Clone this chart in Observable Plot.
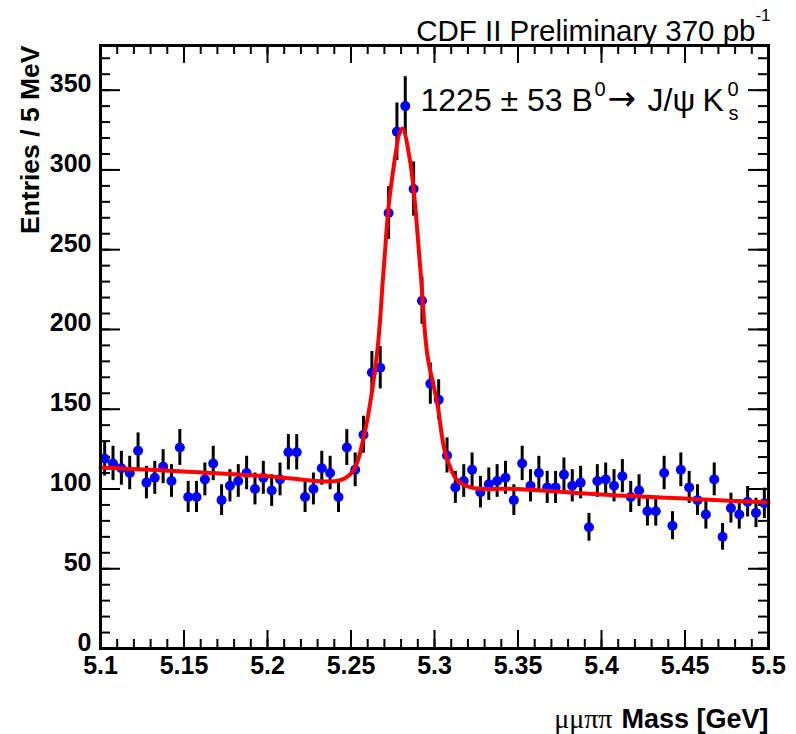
<!DOCTYPE html>
<html>
<head>
<meta charset="utf-8">
<script src="https://cdn.jsdelivr.net/npm/d3@7"></script>
<script src="https://cdn.jsdelivr.net/npm/@observablehq/plot@0.6"></script>
<style>
  html, body { margin: 0; padding: 0; background: #fff; }
</style>
</head>
<body>
<div id="chart"></div>
<script>
// Bin centres (5 MeV bins) and entries
const binCenters = [
  5.1025,5.1075,5.1125,5.1175,5.1225,5.1275,5.1325,5.1375,5.1425,5.1475,
  5.1525,5.1575,5.1625,5.1675,5.1725,5.1775,5.1825,5.1875,5.1925,5.1975,
  5.2025,5.2075,5.2125,5.2175,5.2225,5.2275,5.2325,5.2375,5.2425,5.2475,
  5.2525,5.2575,5.2625,5.2675,5.2725,5.2775,5.2825,5.2875,5.2925,5.2975,
  5.3025,5.3075,5.3125,5.3175,5.3225,5.3275,5.3325,5.3375,5.3425,5.3475,
  5.3525,5.3575,5.3625,5.3675,5.3725,5.3775,5.3825,5.3875,5.3925,5.3975,
  5.4025,5.4075,5.4125,5.4175,5.4225,5.4275,5.4325,5.4375,5.4425,5.4475,
  5.4525,5.4575,5.4625,5.4675,5.4725,5.4775,5.4825,5.4875,5.4925,5.4975
];
const entries = [
  119,116,113,110,124,104,107,114,105,126,
  95,95,106,116,93,102,105,110,100,107,
  99,106,123,123,95,100,113,110,95,126,
  112,134,173,176,273,324,340,288,218,166,
  156,121,101,105,112,98,103,105,107,93,
  116,102,110,101,101,109,102,104,76,105,
  106,102,108,95,99,86,86,110,77,112,
  101,93,84,106,70,88,84,92,85,91
];

// Fit curve
const fitX = [5.1, 5.15, 5.2, 5.2435, 5.2515, 5.2575, 5.2656, 5.2695, 5.2736, 5.2806, 5.2856, 5.2916, 5.2956, 5.3016, 5.3066, 5.3136, 5.3216, 5.35, 5.4, 5.45, 5.5];
const fitY = [113.5, 111, 108, 105.5, 111.7, 132, 185, 237, 287, 326, 304, 237, 185, 154, 122, 105.5, 101, 100, 96.5, 94, 91.5];

// Axis ticks
const xMajor = [5.1, 5.15, 5.2, 5.25, 5.3, 5.35, 5.4, 5.45, 5.5];
const xMinor = [5.1,5.11,5.12,5.13,5.14,5.15,5.16,5.17,5.18,5.19,5.2,5.21,5.22,5.23,5.24,5.25,5.26,5.27,5.28,5.29,5.3,5.31,5.32,5.33,5.34,5.35,5.36,5.37,5.38,5.39,5.4,5.41,5.42,5.43,5.44,5.45,5.46,5.47,5.48,5.49,5.5];
const xTickLabels = ["5.1","5.15","5.2","5.25","5.3","5.35","5.4","5.45","5.5"];
const yMajor = [0, 50, 100, 150, 200, 250, 300, 350];
const yMinor = [0,10,20,30,40,50,60,70,80,90,100,110,120,130,140,150,160,170,180,190,200,210,220,230,240,250,260,270,280,290,300,310,320,330,340,350,360,370];

const data = binCenters.map((x, i) => ({x, n: entries[i]}));
const fit = fitX.map((x, i) => ({x, y: fitY[i]}));

const W = 796, H = 734, ML = 100, MR = 28, MT = 45, MB = 86;
const PW = W - ML - MR, PH = H - MT - MB;
const X0 = 5.1, X1 = 5.5, Y0 = 0, Y1 = 378;
const pxToY = (Y1 - Y0) / PH, pxToX = (X1 - X0) / PW;

const sans = "Liberation Sans, Arial, Helvetica, sans-serif";
const xLabelMap = new Map(xMajor.map((v, i) => [v, xTickLabels[i]]));

// inward tick marks drawn as short rules (length given in pixels)
const tx = (vals, len, side) => Plot.ruleX(vals, {x: d => d,
  y1: side === "bottom" ? Y0 : Y1,
  y2: side === "bottom" ? Y0 + len * pxToY : Y1 - len * pxToY,
  stroke: "#000", strokeWidth: 2});
const ty = (vals, len, side) => Plot.ruleY(vals, {y: d => d,
  x1: side === "left" ? X0 : X1,
  x2: side === "left" ? X0 + len * pxToX : X1 - len * pxToX,
  stroke: "#000", strokeWidth: 2});

const chart = Plot.plot({
  width: W,
  height: H,
  marginLeft: ML,
  marginRight: MR,
  marginTop: MT,
  marginBottom: MB,
  style: {fontFamily: sans, background: "#fff", color: "#000", overflow: "visible"},
  x: {domain: [X0, X1]},
  y: {domain: [Y0, Y1]},
  marks: [
    // inward ticks on all four sides
    tx(xMinor, 9, "bottom"), tx(xMajor, 18, "bottom"),
    tx(xMinor, 9, "top"), tx(xMajor, 18, "top"),
    ty(yMinor, 10, "left"), ty(yMajor, 20, "left"),
    ty(yMinor, 10, "right"), ty(yMajor, 20, "right"),
    // tick labels
    Plot.axisX(xMajor, {anchor: "bottom", tickSize: 0, tickPadding: 8, label: null,
      tickFormat: d => xLabelMap.get(d), fontSize: 25, fontWeight: "bold", fill: "#000"}),
    Plot.axisY(yMajor, {anchor: "left", tickSize: 0, tickPadding: 9, label: null,
      tickFormat: d => String(d), fontSize: 25, fontWeight: "bold", fill: "#000", dy: -6}),
    // error bars
    Plot.ruleX(data, {x: "x", y1: d => d.n - Math.sqrt(d.n), y2: d => d.n + Math.sqrt(d.n), stroke: "#000", strokeWidth: 3}),
    // points
    Plot.dot(data, {x: "x", y: "n", r: 5, fill: "#0000ff", stroke: "none"}),
    // fit
    Plot.line(fit, {x: "x", y: "y", stroke: "#ff0000", strokeWidth: 4, curve: "catmull-rom"}),
    Plot.frame({stroke: "#000", strokeWidth: 3}),
    // title
    Plot.text(["CDF II Preliminary 370 pb"], {frameAnchor: "top-right", dx: -13, dy: -5, textAnchor: "end", lineAnchor: "bottom", fontSize: 29.5, fill: "#000", fontFamily: sans}),
    Plot.text(["-1"], {frameAnchor: "top-right", dx: 2, dy: -25, textAnchor: "end", lineAnchor: "bottom", fontSize: 17, fill: "#000", fontFamily: sans}),
    // axis titles
    Plot.text(["Entries / 5 MeV"], {frameAnchor: "top-left", rotate: -90, textAnchor: "end", lineAnchor: "middle", dx: -70, dy: 0, fontSize: 26.5, fontWeight: "bold", fill: "#000", fontFamily: sans}),
    Plot.text(["Mass [GeV]"], {frameAnchor: "bottom-right", textAnchor: "end", lineAnchor: "bottom", dy: 79, fontSize: 27, fontWeight: "bold", fill: "#000", fontFamily: sans}),
    Plot.text(["μμππ"], {frameAnchor: "bottom-right", textAnchor: "end", lineAnchor: "bottom", dx: -156, dy: 79, fontSize: 28, fill: "#000", fontFamily: "Liberation Serif, serif"}),
    // annotation
    Plot.text(["1225 ± 53 B"], {frameAnchor: "top-left", textAnchor: "start", lineAnchor: "bottom", dx: 320, dy: 65, fontSize: 32, fill: "#000", fontFamily: sans}),
    Plot.text(["0"], {frameAnchor: "top-left", textAnchor: "start", lineAnchor: "bottom", dx: 494, dy: 50, fontSize: 20, fill: "#000", fontFamily: sans}),
    Plot.text(["→"], {frameAnchor: "top-left", textAnchor: "start", lineAnchor: "bottom", dx: 507, dy: 64, fontSize: 34, fill: "#000", fontFamily: "DejaVu Sans, sans-serif"}),
    Plot.text(["J/ψ"], {frameAnchor: "top-left", textAnchor: "start", lineAnchor: "bottom", dx: 547, dy: 65, fontSize: 32, fill: "#000", fontFamily: sans}),
    Plot.text(["K"], {frameAnchor: "top-left", textAnchor: "start", lineAnchor: "bottom", dx: 602, dy: 65, fontSize: 32, fill: "#000", fontFamily: sans}),
    Plot.text(["0"], {frameAnchor: "top-left", textAnchor: "start", lineAnchor: "bottom", dx: 627, dy: 50, fontSize: 20, fill: "#000", fontFamily: sans}),
    Plot.text(["s"], {frameAnchor: "top-left", textAnchor: "start", lineAnchor: "bottom", dx: 628, dy: 74, fontSize: 20, fill: "#000", fontFamily: sans})
  ]
});
document.getElementById("chart").appendChild(chart);
</script>
</body>
</html>
